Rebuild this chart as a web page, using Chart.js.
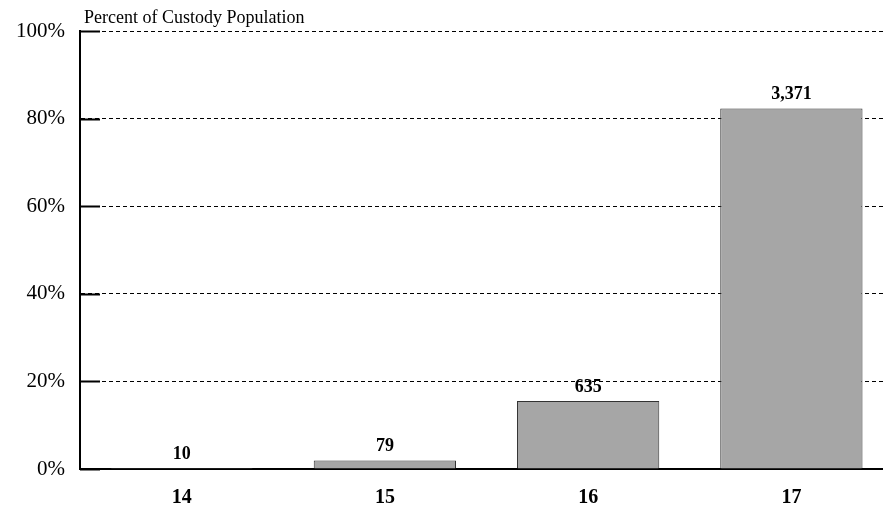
<!DOCTYPE html>
<html>
<head>
<meta charset="utf-8">
<script src="https://cdn.jsdelivr.net/npm/chart.js@4/dist/chart.umd.min.js"></script>
<style>
html,body{margin:0;padding:0;background:#fff;overflow:hidden;width:883px;height:510px;}
#wrap{width:900px;height:510px;}
</style>
</head>
<body>
<div id="wrap"><canvas id="c" width="900" height="510"></canvas></div>
<script>
const categories = ["14", "15", "16", "17"];
const counts = [10, 79, 635, 3371];
const percents = [0.24, 1.93, 15.51, 82.32];
const countLabels = ["10", "79", "635", "3,371"];
const yTicks = [0, 20, 40, 60, 80, 100];
const axisTitle = "Percent of Custody Population";

const FONT = "'Liberation Serif', 'Times New Roman', serif";

const overlay = {
  id: 'overlay',
  afterDatasetsDraw(chart) {
    const ctx = chart.ctx;
    const y = chart.scales.y;
    const area = chart.chartArea;
    ctx.save();
    // inward solid ticks
    ctx.strokeStyle = '#000';
    ctx.lineWidth = 2;
    yTicks.forEach(v => {
      const py = Math.round(y.getPixelForValue(v)) + 0.5;
      ctx.beginPath();
      ctx.moveTo(area.left, py);
      ctx.lineTo(area.left + 20, py);
      ctx.stroke();
    });
    // value labels
    ctx.fillStyle = '#000';
    ctx.font = "bold 18px " + FONT;
    ctx.textAlign = 'center';
    ctx.textBaseline = 'middle';
    const meta = chart.getDatasetMeta(0);
    meta.data.forEach((bar, i) => {
      ctx.fillText(countLabels[i], bar.x, bar.y - 14);
    });
    // axis title
    ctx.font = "18px " + FONT;
    ctx.textAlign = 'left';
    ctx.textBaseline = 'middle';
    ctx.fillText(axisTitle, area.left + 4, 18);
    ctx.restore();
  }
};

new Chart(document.getElementById('c'), {
  type: 'bar',
  data: {
    labels: categories,
    datasets: [{
      data: percents,
      backgroundColor: '#a6a6a6',
      borderColor: '#333333',
      borderWidth: 1,
      borderSkipped: 'bottom',
      barPercentage: 0.7,
      categoryPercentage: 1.0
    }]
  },
  options: {
    responsive: false,
    animation: false,
    layout: { padding: { top: 31, right: 7, left: 0, bottom: 0 } },
    plugins: { legend: { display: false }, tooltip: { enabled: false }, title: { display: false } },
    scales: {
      x: {
        grid: { display: false, drawTicks: false },
        border: { display: true, color: '#000', width: 2 },
        ticks: { color: '#000', font: { family: FONT, size: 20, weight: 'bold' }, padding: 17 },
        afterFit(s) { s.height = 41; }
      },
      y: {
        min: 0, max: 100,
        afterBuildTicks(s) { s.ticks = yTicks.map(v => ({ value: v })); },
        grid: {
          color: ctx => ctx.tick && ctx.tick.value === 0 ? 'rgba(0,0,0,0)' : '#000',
          lineWidth: 1,
          drawTicks: false
        },
        border: { display: true, color: '#000', width: 2, dash: [4, 3] },
        ticks: {
          color: '#000',
          font: { family: FONT, size: 21 },
          padding: 15,
          callback: v => v + '%'
        },
        afterFit(s) { s.width = 80; }
      }
    }
  },
  plugins: [overlay]
});
</script>
</body>
</html>
